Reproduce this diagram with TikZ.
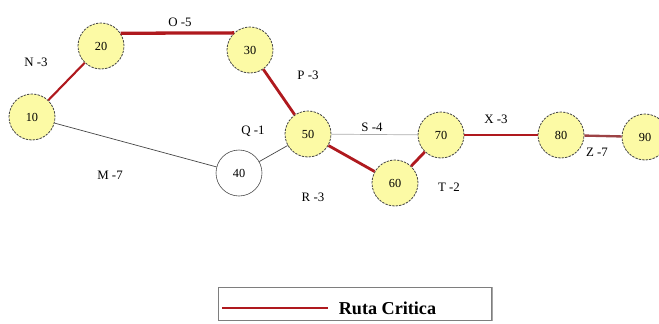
\documentclass[tikz,border=0pt]{standalone}
\usepackage{fontspec}
\setmainfont{Liberation Serif}
\usepackage{xcolor}
\usetikzlibrary{arrows.meta,positioning,shadows}
\definecolor{EvtYellow}{RGB}{252,250,165}
\definecolor{CritRed}{RGB}{175,25,30}
\definecolor{EvtLine}{RGB}{70,70,70}

\begin{document}
\begin{tikzpicture}[x=0.03cm,y=-0.03cm,
    evt/.style={circle,draw=EvtLine,dash pattern=on 2pt off 1pt,line width=0.7pt,
                fill=EvtYellow,minimum size=1.38cm,inner sep=0pt,font=\fontsize{10.5}{12}\selectfont},
    evtw/.style={evt,solid,line width=0.5pt,fill=white},
    crit/.style={CritRed,line width=2.4pt},
    norm/.style={EvtLine,line width=0.6pt},
    lbl/.style={font=\fontsize{11}{13}\selectfont,inner sep=1pt}
  ]
    \useasboundingbox (0,0) rectangle (659,323);
    % events
    \node[evt]  (E10) at (32,117)  {10};
    \node[evt]  (E20) at (101,46)  {20};
    \node[evt]  (E30) at (250,50)  {30};
    \node[evtw] (E40) at (239,173) {40};
    \node[evt]  (E50) at (308,134) {50};
    \node[evt]  (E60) at (395,183) {60};
    \node[evt]  (E70) at (441,135) {70};
    \node[evt]  (E80) at (561,135) {80};
    \node[evt]  (E90) at (645,137) {90};
    % activities
    \draw[crit,line width=1.8pt] (E10)--(E20);
    \draw[crit,line width=2.8pt] (E20.33)--(E30.133);
    \draw[crit] (E30)--(E50);
    \draw[crit] (E50)--(E60); \draw[crit] (E60)--(E70); \draw[crit] (E70)--(E80);
    \draw[crit,line width=2pt,CritRed!60!gray] (E80)--(E90);
    \draw[norm] (E10)--(E40); \draw[norm] (E40)--(E50);
    \draw[norm,EvtLine!45] (E50)--(E70);
    % labels
    \node[lbl] (N) at (36,62)   {N -3};
    \node[lbl] (O) at (180,22)  {O -5};
    \node[lbl] (P) at (308,75)  {P -3};
    \node[lbl] (Q) at (253,131) {Q -1};
    \node[lbl] (M) at (110,175) {M -7};
    \node[lbl] (S) at (372,127) {S -4};
    \node[lbl] (R) at (313,197) {R -3};
    \node[lbl] (T) at (449,187) {T -2};
    \node[lbl] (X) at (496,119) {X -3};
    \node[lbl] (Z) at (597,152) {Z -7};
    % legend
    \node[draw=EvtLine!70,fill=white,line width=0.6pt,minimum width=8.2cm,minimum height=1.0cm,
          drop shadow={shadow xshift=1.5pt,shadow yshift=0pt,opacity=0.7}] (legend) at (355,304) {};
    \coordinate (L1) at (222,308);
    \coordinate (L2) at (328,308);
    \draw[crit] (L1)--(L2);
    \node[font=\fontsize{15.5}{18}\selectfont\bfseries,right=0.2cm of L2] (legtxt) {Ruta Critica};
  \end{tikzpicture}
\end{document}
